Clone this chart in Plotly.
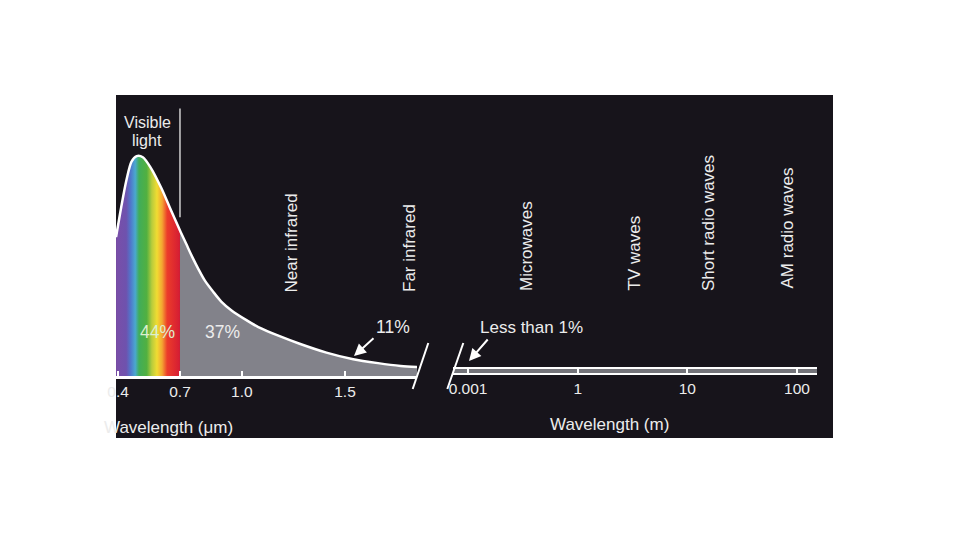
import plotly.graph_objects as go

# ---------------- data ----------------
# solar spectrum (relative irradiance)
wl_um = [0.39, 0.415, 0.44, 0.465, 0.49, 0.52, 0.56, 0.61, 0.65, 0.70,
         0.73, 0.76, 0.79, 0.82, 0.86, 0.90, 0.95, 1.02, 1.08, 1.18,
         1.28, 1.41, 1.54, 1.66, 1.77, 1.85]
irradiance = [1.26, 1.53, 1.77, 1.94, 1.99, 1.98, 1.88, 1.70, 1.53, 1.32,
              1.20, 1.08, 0.97, 0.87, 0.77, 0.68, 0.60, 0.515, 0.45, 0.37,
              0.30, 0.22, 0.16, 0.125, 0.10, 0.09]
visible_limit_um = 0.70

left_ticks = [0.4, 0.7, 1.0, 1.5]
left_ticktext = ["0.4", "0.7", "1.0", "1.5"]
right_ticks = [0, 1, 2, 3]
right_ticktext = ["0.001", "1", "10", "100"]
tail_band = [0.023, 0.081]   # "less than 1%" tail level band

share_labels = ["44%", "37%", "11%", "Less than 1%"]
region_labels = ["Near infrared", "Far infrared", "Microwaves", "TV waves",
                 "Short radio waves", "AM radio waves"]

# ---------------- layout helpers ----------------
W, H = 960, 540
def px(x):
    return x / W
def py(y):
    return 1 - y / H

BG = "#17141b"
TXT = "#ececec"
FONT = "Liberation Sans, Arial, sans-serif"

vis_x = [w for w in wl_um if w <= visible_limit_um]
vis_y = irradiance[:len(vis_x)]
ir_x = wl_um[len(vis_x) - 1:]
ir_y = irradiance[len(vis_x) - 1:]

fig = go.Figure()

# visible-light rainbow fill
fig.add_trace(go.Scatter(
    x=vis_x, y=vis_y, mode="lines", line=dict(width=0, shape="spline"),
    fill="tozeroy",
    fillgradient=dict(type="horizontal", colorscale=[
        [0.0, "#7a4ea8"], [0.16, "#6e52ae"], [0.23, "#4f78cc"],
        [0.30, "#4aa8d0"], [0.36, "#40ad5a"], [0.48, "#52b040"],
        [0.56, "#b8cc3c"], [0.64, "#f0dc32"], [0.72, "#f4a632"],
        [0.80, "#ec3c2a"], [1.0, "#d41c34"]]),
    hoverinfo="skip", showlegend=False, xaxis="x", yaxis="y"))

# infrared grey fill
fig.add_trace(go.Scatter(
    x=ir_x, y=ir_y, mode="lines", line=dict(width=0, shape="spline"),
    fill="tozeroy", fillcolor="#82828a",
    hoverinfo="skip", showlegend=False, xaxis="x", yaxis="y"))

# white spectrum curve
fig.add_trace(go.Scatter(
    x=wl_um, y=irradiance, mode="lines",
    line=dict(color="white", width=2.5, shape="spline", smoothing=0.8),
    hoverinfo="skip", showlegend=False, xaxis="x", yaxis="y"))

# long-wavelength tail (right panel) - carries the second axis
fig.add_trace(go.Scatter(
    x=right_ticks, y=[tail_band[1]] * len(right_ticks), mode="lines",
    line=dict(color="white", width=2),
    hoverinfo="skip", showlegend=False, xaxis="x2", yaxis="y"))

shapes = [
    # black panel
    dict(type="rect", xref="paper", yref="paper", x0=px(116), x1=px(833),
         y0=py(438), y1=py(95), fillcolor=BG, line=dict(width=0), layer="below"),
    # visible light divider
    dict(type="line", xref="x", yref="y", x0=visible_limit_um, x1=visible_limit_um,
         y0=1.44, y1=2.42, line=dict(color="#cfcfcf", width=1.5)),
    # right tail band
    dict(type="rect", xref="x2 domain", yref="y", x0=0, x1=1,
         y0=tail_band[0], y1=tail_band[1], fillcolor="#74747a",
         line=dict(width=0), layer="below"),
    dict(type="line", xref="x2 domain", yref="y", x0=0, x1=1,
         y0=tail_band[1], y1=tail_band[1], line=dict(color="white", width=2)),
    # axis break marks
    dict(type="line", xref="paper", yref="paper", x0=px(412.7), y0=py(389),
         x1=px(428.3), y1=py(343), line=dict(color="white", width=2)),
    dict(type="line", xref="paper", yref="paper", x0=px(447.3), y0=py(389),
         x1=px(463.3), y1=py(343), line=dict(color="white", width=2)),
]

ann = []
def label(text, x, y, size=17, color=TXT, angle=0, xa="center", ya="middle"):
    ann.append(dict(text=text, xref="paper", yref="paper", x=px(x), y=py(y),
                    showarrow=False, textangle=angle, xanchor=xa, yanchor=ya,
                    font=dict(family=FONT, size=size, color=color)))

def arrow(tip_x, tip_y, tail_x, tail_y):
    ann.append(dict(text="", xref="paper", yref="paper", x=px(tip_x), y=py(tip_y),
                    ax=tail_x - tip_x, ay=tail_y - tip_y, showarrow=True,
                    arrowhead=2, arrowsize=1.2, arrowwidth=2, arrowcolor="white",
                    standoff=0, startstandoff=0))

label("Visible", 147, 123, size=16)
label("light", 147, 140, size=16)
label(share_labels[0], 157, 332, size=17.5, color="#dcefcf")
label(share_labels[1], 222, 332, size=17.5)
label(share_labels[2], 393, 327, size=17.5)
label(share_labels[3], 531, 327)
arrow(354, 356, 375, 337)
arrow(469, 361, 489, 338)

region_pos = [(291, 295), (409, 294), (526, 293), (634, 293), (708, 293), (787, 291)]
for t, (x, y) in zip(region_labels, region_pos):
    label(t, x, y, size=17, angle=-90, ya="bottom")

label("Wavelength (μm)", 168, 427)
label("Wavelength (m)", 609, 424)

fig.update_layout(
    width=W, height=H, autosize=False,
    margin=dict(l=0, r=0, t=0, b=0, pad=0, autoexpand=False),
    paper_bgcolor="white", plot_bgcolor="rgba(0,0,0,0)",
    showlegend=False,
    shapes=shapes, annotations=ann,
    xaxis=dict(domain=[px(116), px(417)], range=[0.3898, 1.8492],
               anchor="free", position=py(377), automargin=False,
               showgrid=False, zeroline=False,
               showline=True, linecolor="white", linewidth=2.5,
               ticks="inside", ticklen=5, tickwidth=1.5, tickcolor="white",
               tickvals=left_ticks, ticktext=left_ticktext,
               ticklabelstandoff=0,
               tickfont=dict(family=FONT, size=15.5, color=TXT)),
    xaxis2=dict(domain=[px(453), px(817)], range=[-0.137, 3.182],
                anchor="free", position=py(374.4), automargin=False,
                showgrid=False, zeroline=False,
                showline=True, linecolor="white", linewidth=2,
                ticks="inside", ticklen=6, tickwidth=1.5, tickcolor="white",
                tickvals=right_ticks, ticktext=right_ticktext,
                ticklabelstandoff=0,
                tickfont=dict(family=FONT, size=15.5, color=TXT)),
    yaxis=dict(domain=[py(438), py(95)], range=[-0.5495, 2.5405],
               automargin=False,
               visible=False, showgrid=False, zeroline=False, anchor="x"),
)

fig.write_html("out.html", config={"displayModeBar": False},
               post_script="document.body.style.margin='0px';")
